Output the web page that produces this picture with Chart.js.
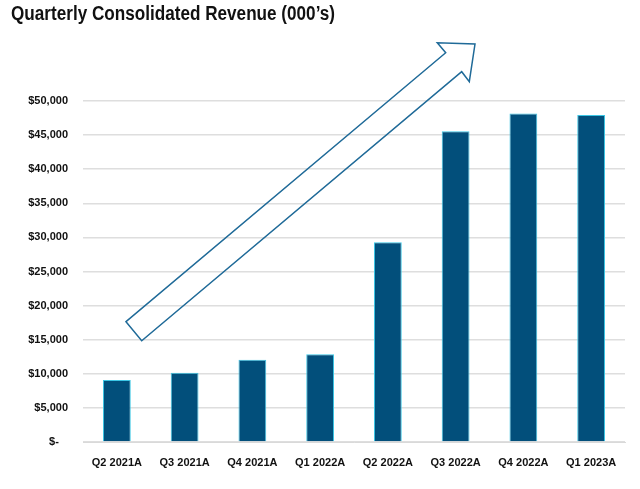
<!DOCTYPE html>
<html>
<head>
<meta charset="utf-8">
<script src="https://cdn.jsdelivr.net/npm/chart.js@4/dist/chart.umd.min.js"></script>
<style>
  html, body { margin: 0; padding: 0; background: #fff; }
  #wrap { position: relative; width: 640px; height: 489px; }
  #title { position: absolute; left: 11px; top: 2px; font-family: "Liberation Sans", Arial, sans-serif; font-weight: bold; font-size: 20px; color: #111; white-space: nowrap; transform-origin: 0 0; }
  canvas { position: absolute; left: 0; top: 0; }
</style>
</head>
<body>
<div id="wrap">
  <canvas id="c" width="640" height="489"></canvas>
  <div id="title">Quarterly Consolidated Revenue (000’s)</div>
</div>
<script>
const categories = ["Q2 2021A", "Q3 2021A", "Q4 2021A", "Q1 2022A", "Q2 2022A", "Q3 2022A", "Q4 2022A", "Q1 2023A"];
const revenue = [9100, 10150, 12050, 12850, 29300, 45550, 48150, 47950];
const tickValues = [0, 5000, 10000, 15000, 20000, 25000, 30000, 35000, 40000, 45000, 50000];

// fit title width
const t = document.getElementById('title');
const w = t.getBoundingClientRect().width;
t.style.transform = 'scaleX(' + (324 / w) + ')';

const arrowPlugin = {
  id: 'arrow',
  afterDatasetsDraw(chart) {
    const ctx = chart.ctx;
    const pts = [[126, 321.7], [141.7, 340.7], [461.7, 71.7], [469.3, 81.7], [475, 44], [437.3, 42.7], [445.7, 52.7]];
    ctx.save();
    ctx.beginPath();
    ctx.moveTo(pts[0][0], pts[0][1]);
    for (let i = 1; i < pts.length; i++) ctx.lineTo(pts[i][0], pts[i][1]);
    ctx.closePath();
    ctx.strokeStyle = '#1f6a98';
    ctx.lineWidth = 1.5;
    ctx.lineJoin = 'miter';
    ctx.stroke();
    ctx.restore();
  }
};

new Chart(document.getElementById('c'), {
  type: 'bar',
  data: {
    labels: categories,
    datasets: [{
      data: revenue,
      backgroundColor: '#024f7b',
      borderColor: '#3cc6e4',
      borderWidth: 1,
      categoryPercentage: 1,
      barPercentage: 0.41
    }]
  },
  options: {
    responsive: false,
    animation: false,
    layout: { padding: { top: 101, right: 15, left: 0, bottom: 0 } },
    plugins: { legend: { display: false }, tooltip: { enabled: false } },
    scales: {
      x: {
        grid: { display: false, drawTicks: false },
        border: { display: true, color: '#d9d9d9', width: 1 },
        ticks: { color: '#111', font: { family: '"Liberation Sans", Arial, sans-serif', weight: 'bold', size: 11 }, padding: 14, maxRotation: 0 },
        afterFit(s) { s.height = 47; }
      },
      y: {
        min: 0, max: 50000,
        afterBuildTicks(s) { s.ticks = tickValues.map(v => ({ value: v })); },
        grid: { color: '#dedede', lineWidth: 1.5, drawTicks: false },
        border: { display: false },
        ticks: {
          color: '#111', padding: 15,
          font: { family: '"Liberation Sans", Arial, sans-serif', weight: 'bold', size: 11 },
          callback: v => v === 0 ? '$-   ' : '$' + v.toLocaleString('en-US')
        },
        afterFit(s) { s.width = 83; }
      }
    }
  },
  plugins: [arrowPlugin]
});
</script>
</body>
</html>
